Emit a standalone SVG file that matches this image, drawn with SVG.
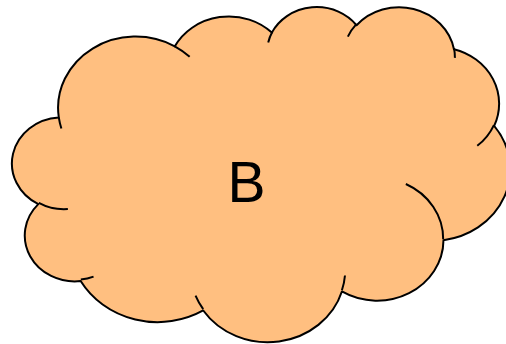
<svg xmlns="http://www.w3.org/2000/svg" width="506" height="344" viewBox="0 0 506 344">
<style>
.cloud{fill:#FFBF80;stroke:#000;stroke-width:2;stroke-linejoin:round}
.inner{fill:none;stroke:#000;stroke-width:2}
.lbl{font-family:"Liberation Sans",Arial,sans-serif;font-size:57px;fill:#000}
</style>
<rect width="506" height="344" fill="#fff"/>
<g id="cloud-B">
<path class="cloud" d="M58.78,117.43 A77.54,71.27 0 0 1 174.81,46.35 A61.23,56.35 0 0 1 271.85,32.61 A50.12,46.10 0 0 1 356.55,25.24 A55.77,51.14 0 0 1 453.97,49.24 A61.23,56.40 0 0 1 494.17,125.88 A77.79,71.50 0 0 1 443.48,240.20 A66.42,61.01 0 0 1 341.89,291.46 A77.52,71.46 0 0 1 203.24,310.47 A88.64,81.76 0 0 1 80.68,281.06 A50.06,45.89 0 0 1 38.30,204.11 A49.89,46.10 0 0 1 58.78,117.43 Z"/>
<path class="inner" d="M67.88,208.99 A49.89,46.10 0 0 1 38.80,202.81 M93.54,276.63 A50.06,45.89 0 0 1 80.81,279.59 M203.19,309.13 A77.52,71.46 0 0 1 195.53,295.63 M344.98,275.48 A77.52,71.46 0 0 1 341.92,290.28 M405.85,184.00 A66.42,61.01 0 0 1 443.18,239.33 M493.91,125.06 A61.23,56.40 0 0 1 477.27,145.83 M454.01,48.08 A55.77,51.14 0 0 1 454.90,57.87 M347.86,36.65 A55.77,51.14 0 0 1 356.37,24.16 M268.21,42.60 A50.12,46.10 0 0 1 272.34,31.82 M174.74,46.26 A77.54,71.27 0 0 1 189.66,56.72 M61.38,128.44 A77.54,71.27 0 0 1 58.78,117.43"/>
<text class="lbl" x="246.5" y="201.7" text-anchor="middle">B</text>
</g>
<g id="connectors"/>
</svg>
